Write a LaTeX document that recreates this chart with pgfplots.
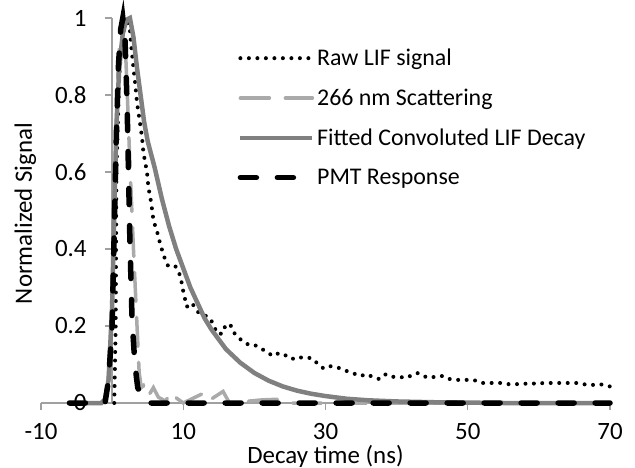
\documentclass[border=0pt]{standalone}
\usepackage{fontspec}
\setmainfont{Carlito}
\usepackage{pgfplots}
\pgfplotsset{compat=1.18}
\definecolor{axisgray}{HTML}{A0A0A0}
\definecolor{fitgray}{HTML}{808080}
\definecolor{scatgray}{HTML}{AAAAAA}
\begin{document}
\begin{tikzpicture}
\path[use as bounding box] (-41bp,-65bp) rectangle (594bp,403bp);
\begin{axis}[
  scale only axis,
  width=569bp, height=385bp,
  xmin=-10, xmax=70, ymin=0, ymax=1,
  axis x line=bottom, axis y line=center,
  axis line style={draw=axisgray, line width=1.3bp, -},
  xtick={-10,10,30,50,70},
  ytick={0,0.2,0.4,0.6,0.8,1},
  yticklabels={0,0.2,0.4,0.6,0.8,1},
  hide obscured y ticks=false,
  tick align=outside,
  major tick length=7bp,
  tick style={draw=axisgray, line width=1.3bp},
  /pgf/number format/assume math mode=true,
  ticklabel style={font=\fontsize{25}{30}\selectfont},
  xticklabel style={yshift=-10bp},
  yticklabel style={xshift=-15bp},
  xlabel={Decay time (ns)},
  ylabel={Normalized Signal},
  every axis x label/.style={at={(axis description cs:0.5,0)}, anchor=base, yshift=-60bp, font=\fontsize{25}{30}\selectfont},
  every axis y label/.style={at={(axis description cs:0,0.5)}, rotate=90, anchor=base, yshift=9bp, xshift=-3bp, font=\fontsize{25}{30}\selectfont},
  clip=false,
  legend style={at={(axis cs:17.2,0.93)}, anchor=north west, draw=none, fill=none,
    font=\fontsize{24}{28}\selectfont, legend cell align=left, row sep=18bp},
  legend image code/.code={\draw[#1] (0cm,0cm) -- (2.54cm,0cm);},
]
% Raw LIF signal
\addplot[black, line width=4bp, line cap=round, dash pattern=on 0bp off 8.5bp] coordinates {
(0.3,0) (0.5,0.2) (0.6,0.6) (1.0,0.85) (1.5,0.97) (2.0,1.0) (2.5,0.97) (2.7,0.925)
(3.0,0.87) (3.3,0.82) (3.5,0.78) (3.9,0.73) (4.2,0.69) (4.4,0.65) (4.9,0.6) (5.1,0.56)
(5.5,0.52) (5.8,0.475) (6.4,0.44) (6.8,0.41) (7.5,0.37) (7.9,0.355) (8.9,0.355) (9.6,0.33)
(10,0.29) (10.5,0.25) (11.2,0.26) (12.1,0.236) (13,0.228) (13.8,0.22) (14.8,0.18) (15.5,0.18)
(15.9,0.2) (16.6,0.205) (17,0.185) (18,0.166) (19,0.153) (19.8,0.153) (20.8,0.143) (21.8,0.132)
(22.6,0.122) (23.5,0.13) (24.6,0.122) (25.3,0.114) (26,0.12) (26.9,0.117) (28,0.117) (28.8,0.104)
(29.7,0.09) (30.4,0.096) (31.5,0.094) (32.5,0.086) (33.5,0.08) (34.9,0.07) (35.8,0.075) (36.7,0.067)
(37.6,0.062) (38.5,0.075) (39.5,0.068) (40.4,0.068) (41.3,0.065) (41.9,0.07) (42.9,0.078) (43.7,0.07)
(44.7,0.065) (45.7,0.07) (46.6,0.07) (47.5,0.062) (48.5,0.06) (49.4,0.06) (50.8,0.06) (52,0.052)
(52.9,0.052) (53.9,0.052) (54.8,0.052) (55.7,0.049) (56.4,0.049) (57.7,0.049) (58.8,0.052) (59.8,0.049)
(60.6,0.052) (61.6,0.052) (62.6,0.052) (63.4,0.052) (64.7,0.052) (65.5,0.052) (66.8,0.047) (67.7,0.047)
(68.6,0.049) (69.6,0.044) (70,0.043)
};
\addlegendentry{Raw LIF signal}
% 266 nm scattering
\addplot[scatgray, line width=3.5bp, line cap=round, dash pattern=on 29bp off 16bp] coordinates {
(-6,0) (-1.2,0) (-0.7,0.03) (-0.3,0.12) (0,0.3) (0.4,0.6) (0.8,0.85) (1.2,0.98) (1.5,1.0)
(1.8,0.95) (2.1,0.82) (2.5,0.62) (3,0.4) (3.5,0.2) (3.8,0.08) (4.1,0.04) (4.4,0.045) (5,0.015)
(5.8,0.04) (6.5,0.015) (7.5,0.005) (8.4,0.03) (9.1,0.012) (10,0) (12.8,0.025) (13.5,0.005)
(15.6,0.03) (16.5,0) (21,0.008) (23.6,0.01) (25,0) (70,0)
};
\addlegendentry{266 nm Scattering}
% Fitted convoluted LIF decay
\addplot[fitgray, line width=4.5bp] coordinates {
(-6,0) (-1.5,0) (-1,0.01) (-0.5,0.06) (0,0.25) (0.3,0.5) (0.6,0.72) (1,0.87) (1.5,0.96)
(2,0.995) (2.5,1.0) (3,0.95) (3.5,0.87) (4,0.8) (4.5,0.73) (5,0.68) (6,0.61) (7,0.53)
(8,0.46) (9,0.4) (10,0.35) (11,0.3) (12,0.26) (13,0.22) (14,0.19) (15,0.165) (16,0.14)
(18,0.105) (20,0.078) (22,0.058) (24,0.043) (26,0.032) (28,0.024) (30,0.018) (33,0.011)
(36,0.007) (40,0.004) (45,0.002) (50,0.001) (55,0) (70,0)
};
\addlegendentry{Fitted Convoluted LIF Decay}
% PMT response
\addplot[black, line width=5.5bp, line cap=round, dash pattern=on 16bp off 21bp] coordinates {
(-6,0) (-1,0) (-0.5,0.06) (0,0.2) (0.3,0.45) (0.6,0.7) (0.9,0.88) (1.2,0.97) (1.5,1.0)
(1.8,0.95) (2.1,0.78) (2.5,0.42) (2.8,0.22) (3.2,0.1) (3.6,0.04) (4.2,0.01) (5,0) (70,0)
};
\addlegendentry{PMT Response}
\end{axis}
\end{tikzpicture}
\end{document}
